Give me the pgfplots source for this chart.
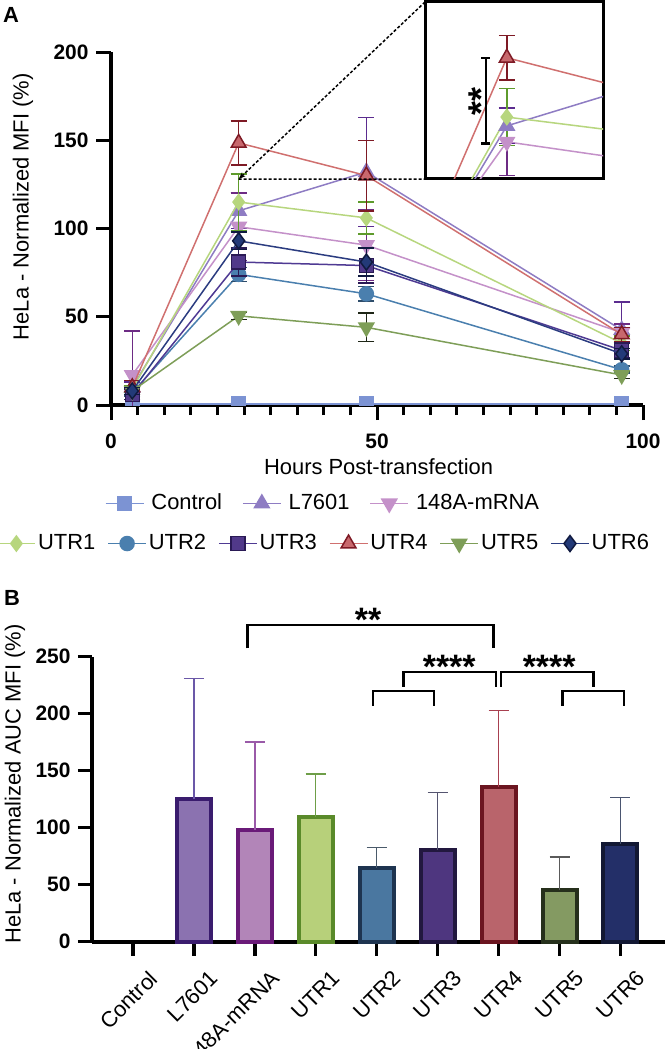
\documentclass[border=0pt]{standalone}
\usepackage{fontspec}
\setmainfont{Liberation Sans}
\usepackage{pgfplots}
\usepackage{pgfplotstable}
\pgfplotsset{compat=1.18}
\usetikzlibrary{arrows.meta}

\definecolor{cCtrl}{HTML}{7C93D3}
\definecolor{cLa}{HTML}{8E7CC3}
\definecolor{cLaE}{HTML}{5B2C8F}
\definecolor{cMr}{HTML}{C491C9}
\definecolor{cMrE}{HTML}{6D2B84}
\definecolor{cUa}{HTML}{B7D67E}
\definecolor{cUaE}{HTML}{5E9B2C}
\definecolor{cUb}{HTML}{4A7FAE}
\definecolor{cUbE}{HTML}{2E4D6B}
\definecolor{cUc}{HTML}{4F3A93}
\definecolor{cUcF}{HTML}{51398A}
\definecolor{cUcE}{HTML}{2A1A55}
\definecolor{cUd}{HTML}{D0706F}
\definecolor{cUdF}{HTML}{C8686D}
\definecolor{cUdE}{HTML}{7E1A25}
\definecolor{cUe}{HTML}{7E9E58}
\definecolor{cUeF}{HTML}{7A9653}
\definecolor{cUeE}{HTML}{1E2616}
\definecolor{cUf}{HTML}{2B3C80}
\definecolor{cUfF}{HTML}{233A78}
\definecolor{cUfE}{HTML}{101A40}
% bar colours
\definecolor{bLaF}{HTML}{8B72B0}\definecolor{bLaD}{HTML}{3A1C6E}\definecolor{bLaE}{HTML}{6B58A8}
\definecolor{bMrF}{HTML}{B285B8}\definecolor{bMrD}{HTML}{6A1A78}\definecolor{bMrE}{HTML}{9A5AA8}
\definecolor{bUaF}{HTML}{B7D07A}\definecolor{bUaD}{HTML}{5A8A2A}\definecolor{bUaE}{HTML}{6E9E48}
\definecolor{bUbF}{HTML}{4A77A0}\definecolor{bUbD}{HTML}{1E3450}\definecolor{bUbE}{HTML}{4A5A6A}
\definecolor{bUcF}{HTML}{4E367F}\definecolor{bUcD}{HTML}{22183F}\definecolor{bUcE}{HTML}{555570}
\definecolor{bUdF}{HTML}{B9646B}\definecolor{bUdD}{HTML}{6B1520}\definecolor{bUdE}{HTML}{A84050}
\definecolor{bUeF}{HTML}{849A62}\definecolor{bUeD}{HTML}{26301C}\definecolor{bUeE}{HTML}{5A5A5A}
\definecolor{bUfF}{HTML}{232F68}\definecolor{bUfD}{HTML}{121833}\definecolor{bUfE}{HTML}{4A5570}

\pgfplotstableread{
x y e
4 0.5 0
24 0.5 0
48 0.5 0
96 0.5 0
}\tCtrl
\pgfplotstableread{
x y e
4 10 3
24 110 10
48 132 31
96 42.5 16
}\tLa
\pgfplotstableread{
x y e
4 17 25
24 101 19
48 90.6 20
96 41 5
}\tMr
\pgfplotstableread{
x y e
4 9 2
24 115 16
48 106 9
96 35 4
}\tUa
\pgfplotstableread{
x y e
4 7 2
24 74 4
48 63 4
96 20 2
}\tUb
\pgfplotstableread{
x y e
4 6 3
24 81 8
48 79 10
96 31 4
}\tUc
\pgfplotstableread{
x y e
4 10 4
24 148.5 12.5
48 130 20
96 40 4
}\tUd
\pgfplotstableread{
x y e
4 8 2
24 50.5 2
48 44 8
96 17 2
}\tUe
\pgfplotstableread{
x y e
4 8 2
24 93 5
48 81 8
96 29 3
}\tUf

\pgfplotsset{
  ser/.style n args={5}{color=#1, line width=1.5bp, mark=#2, mark size=#3,
     mark options={solid, fill=#4, draw=#5, line width=1.5bp}},
  eb/.style={/pgfplots/error bars/y dir=both, /pgfplots/error bars/y explicit,
     /pgfplots/error bars/error bar style={line width=1.5bp, color=#1},
     /pgfplots/error bars/error mark options={rotate=90, mark size=8bp, line width=1.5bp, color=#1}},
  mybar/.style n args={3}{ybar, bar width=34bp, bar shift=0pt, fill=#1, draw=#2, line width=4bp,
     /pgfplots/error bars/y dir=plus, /pgfplots/error bars/y explicit,
     /pgfplots/error bars/error bar style={line width=1.5bp, color=#3},
     /pgfplots/error bars/error mark options={rotate=90, mark size=10bp, line width=1.5bp, color=#3}},
  myleg/.style={legend image code/.code={\draw[mark repeat=2, mark phase=2, ##1] plot coordinates {(0bp,0bp) (19bp,0bp) (38bp,0bp)};}},
}

\newcommand{\plotLa}{\addplot[ser={cLa}{triangle*}{8.5bp}{cLa}{cLa}, eb=cLaE] table[x=x,y=y,y error=e] {\tLa};}
\newcommand{\plotMr}{\addplot[ser={cMr}{triangle*}{8.5bp}{cMr}{cMr}, mark options={rotate=180}, eb=cMrE] table[x=x,y=y,y error=e] {\tMr};}
\newcommand{\plotUa}{\addplot[ser={cUa}{diamond*}{7.5bp}{cUa}{cUa}, eb=cUaE] table[x=x,y=y,y error=e] {\tUa};}
\newcommand{\plotUd}{\addplot[ser={cUd}{triangle*}{8.5bp}{cUdF}{cUdE}, eb=cUdE] table[x=x,y=y,y error=e] {\tUd};}

\begin{document}
\fontsize{22}{26}\selectfont
\begin{tikzpicture}
\useasboundingbox (0,0) rectangle (666bp,-1049bp);
\node[anchor=base west, font=\bfseries\fontsize{22}{26}\selectfont, inner sep=0pt] at (3bp,-22bp) {A};
\node[anchor=base west, font=\bfseries\fontsize{22}{26}\selectfont, inner sep=0pt] at (4bp,-605bp) {B};

% ---------- Panel A ----------
\begin{axis}[
  name=mainA,
  at={(111bp,-405bp)}, anchor=south west,
  scale only axis, width=532bp, height=353bp,
  xmin=0, xmax=100, ymin=0, ymax=200,
  axis x line*=bottom, axis y line*=left,
  axis line style={line width=3.5bp, black, -},
  xtick={0,50,100}, minor xtick={5,10,...,95},
  ytick={0,50,100,150,200},
  tick align=outside,
  major tick length=15bp, minor tick length=10bp,
  tick style={line width=3bp, black},
  /pgf/number format/assume math mode=true,
  tick label style={font=\bfseries\fontsize{21}{24}\selectfont},
  xticklabel style={yshift=-6bp},
  label style={font=\fontsize{22}{26}\selectfont},
  xlabel={Hours Post-transfection},
  ylabel={HeLa - Normalized MFI (\%)},
  xlabel style={at={(axis description cs:0.503,-0.1735)}, anchor=center},
  ylabel style={at={(axis description cs:-0.1654,0.5618)}, anchor=center},
  clip=true, clip marker paths=true,
  myleg,
  legend entries={Control,L7601,148A-mRNA},
  legend columns=3,
  legend style={at={(axis description cs:0.3985,-0.279)}, anchor=center, draw=none, fill=none,
     font=\fontsize{22}{26}\selectfont,
     /tikz/every odd column/.append style={column sep=5bp},
     /tikz/every even column/.append style={column sep=18bp}},
]
\addplot[ser={cCtrl}{square*}{7bp}{cCtrl}{cCtrl}] table[x=x,y=y] {\tCtrl};
\plotLa
\plotMr
\plotUa
\addplot[ser={cUb}{*}{7bp}{cUb}{cUb}, eb=cUbE] table[x=x,y=y,y error=e] {\tUb};
\addplot[ser={cUc}{square*}{7bp}{cUcF}{cUcE}, eb=cUcE] table[x=x,y=y,y error=e] {\tUc};
\plotUd
\addplot[ser={cUe}{triangle*}{8.5bp}{cUeF}{cUeE}, mark options={rotate=180}, eb=cUeE] table[x=x,y=y,y error=e] {\tUe};
\addplot[ser={cUf}{diamond*}{8bp}{cUfF}{cUfE}, eb=cUfE] table[x=x,y=y,y error=e] {\tUf};
\coordinate (zp) at (axis cs:24,128);
\end{axis}

% second legend row
\begin{axis}[
  at={(111bp,-405bp)}, anchor=south west,
  scale only axis, width=532bp, height=353bp,
  xmin=0, xmax=1, ymin=0, ymax=1, hide axis,
  myleg,
  legend columns=6,
  legend style={at={(axis description cs:0.400,-0.3924)}, anchor=center, draw=none, fill=none,
     font=\fontsize{22}{26}\selectfont, /tikz/every even column/.append style={column sep=10bp}},
]
\addlegendimage{ser={cUa}{diamond*}{7.5bp}{cUa}{cUa}}
\addlegendentry{UTR1}
\addlegendimage{ser={cUb}{*}{7bp}{cUb}{cUb}}
\addlegendentry{UTR2}
\addlegendimage{ser={cUc}{square*}{7bp}{cUcF}{cUcE}}
\addlegendentry{UTR3}
\addlegendimage{ser={cUd}{triangle*}{8.5bp}{cUdF}{cUdE}}
\addlegendentry{UTR4}
\addlegendimage{ser={cUe}{triangle*}{8.5bp}{cUeF}{cUeE}, mark options={rotate=180}}
\addlegendentry{UTR5}
\addlegendimage{ser={cUf}{diamond*}{8bp}{cUfF}{cUfE}}
\addlegendentry{UTR6}
\end{axis}

% inset
\begin{axis}[
  name=inset,
  at={(425bp,-179bp)}, anchor=south west,
  scale only axis, width=178bp, height=177bp,
  xmin=8.6, xmax=42.1, ymin=80, ymax=180,
  axis line style={line width=3bp, black},
  ticks=none,
  axis background/.style={fill=white},
]
\plotMr
\plotLa
\plotUa
\plotUd
\draw[line width=2.5bp] (axis cs:19.2,148.3) -- (axis cs:20.9,148.3);
\draw[line width=2.5bp] (axis cs:19.2,100.1) -- (axis cs:20.9,100.1);
\draw[line width=2.5bp] (axis cs:20.05,148.3) -- (axis cs:20.05,100.1);
\node[rotate=90, anchor=base, inner sep=0pt, font=\bfseries\fontsize{36}{36}\selectfont] at (axis cs:21.4,124) {**};
\end{axis}
\draw[line width=1.5bp, dash pattern=on 3bp off 2bp] (zp) -- (inset.south west);
\draw[line width=1.5bp, dash pattern=on 3bp off 2bp, -{Stealth[length=7bp,width=5bp]}] (inset.north west) -- (zp);

% ---------- Panel B ----------
\begin{axis}[
  at={(92bp,-941.7bp)}, anchor=south west,
  scale only axis, width=573bp, height=285bp,
  xmin=-0.67, xmax=8.73, ymin=0, ymax=250,
  axis x line*=bottom, axis y line*=left,
  axis line style={line width=4bp, black, -},
  xtick={0,...,8},
  xticklabels={Control,L7601,148A-mRNA,UTR1,UTR2,UTR3,UTR4,UTR5,UTR6},
  ytick={0,50,100,150,200,250},
  tick align=outside,
  major tick length=14bp,
  tick style={line width=3.5bp, black},
  /pgf/number format/assume math mode=true,
  yticklabel style={font=\bfseries\fontsize{21}{24}\selectfont},
  xticklabel style={font=\fontsize{22}{26}\selectfont, xshift=15bp, yshift=-3bp, rotate=45, anchor=north east},
  label style={font=\fontsize{22}{26}\selectfont},
  ylabel={HeLa - Normalized AUC MFI (\%)},
  ylabel style={at={(axis description cs:-0.1344,0.553)}, anchor=center},
  clip=false,
]
\addplot[mybar={bLaF}{bLaD}{bLaE}] coordinates {(1,125) +- (0,106)};
\addplot[mybar={bMrF}{bMrD}{bMrE}] coordinates {(2,98) +- (0,77)};
\addplot[mybar={bUaF}{bUaD}{bUaE}] coordinates {(3,109) +- (0,38)};
\addplot[mybar={bUbF}{bUbD}{bUbE}] coordinates {(4,65) +- (0,17.5)};
\addplot[mybar={bUcF}{bUcD}{bUcE}] coordinates {(5,80.5) +- (0,50.5)};
\addplot[mybar={bUdF}{bUdD}{bUdE}] coordinates {(6,135.5) +- (0,67.5)};
\addplot[mybar={bUeF}{bUeD}{bUeE}] coordinates {(7,45.5) +- (0,29)};
\addplot[mybar={bUfF}{bUfD}{bUfE}] coordinates {(8,85.7) +- (0,41)};
% significance brackets
\draw[line width=2.5bp] (axis cs:1.88,257.4) |- (axis cs:5.92,277.8) -- (axis cs:5.92,257.4);
\draw[line width=2.5bp] (axis cs:3.94,207) |- (axis cs:4.94,219.9) -- (axis cs:4.94,207);
\draw[line width=2.5bp] (axis cs:4.44,223.7) |- (axis cs:5.96,236.8) -- (axis cs:5.96,223.7);
\draw[line width=2.5bp] (axis cs:7.05,207) |- (axis cs:8.06,219.9) -- (axis cs:8.06,207);
\draw[line width=2.5bp] (axis cs:6.04,223.7) |- (axis cs:7.56,236.8) -- (axis cs:7.56,223.7);
\node[anchor=base, inner sep=0pt, font=\bfseries\fontsize{34}{34}\selectfont] at (axis cs:3.86,272) {**};
\node[anchor=base, inner sep=0pt, font=\bfseries\fontsize{34}{34}\selectfont] at (axis cs:5.19,231) {****};
\node[anchor=base, inner sep=0pt, font=\bfseries\fontsize{34}{34}\selectfont] at (axis cs:6.83,231) {****};
\end{axis}
\end{tikzpicture}
\end{document}
